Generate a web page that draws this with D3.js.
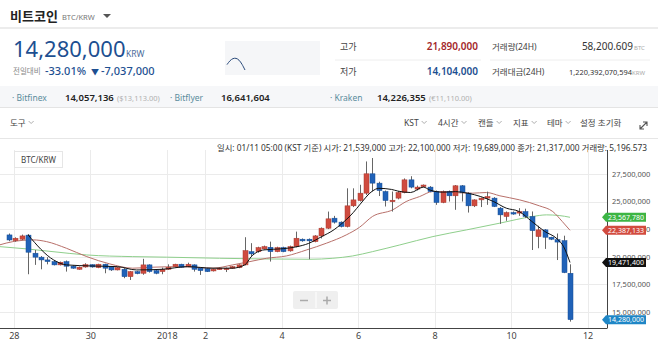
<!DOCTYPE html>
<html>
<head>
<meta charset="utf-8">
<script src="https://cdn.jsdelivr.net/npm/d3@7"></script>
<style>
body { margin: 0; background: #fff; }
svg text { font-family: "Noto Sans", "Noto Sans CJK KR", sans-serif; }
</style>
</head>
<body>
<svg id="chart" width="658" height="345"></svg>
<script>
// 4시간 캔들 (단위: 백만 KRW), 첫 캔들 2017-12-27 21:00 KST
var opens = [21.97,21.45,21.58,21.95,20.31,19.95,19.7,19.55,19.25,19.55,19.13,18.85,19.06,19.27,19.0,19.31,19.09,18.79,18.85,18.18,
  18.64,18.49,19.25,18.73,18.64,18.85,19.09,19.31,19.09,19.25,18.95,18.9,18.7,18.85,18.9,18.95,19.0,19.25,20.45,20.45,
  20.7,20.85,20.45,20.82,20.52,20.91,21.58,21.58,21.36,21.88,22.58,23.49,23.13,22.73,24.61,25.09,25.76,27.52,26.67,25.91,
  25.0,25.31,25.82,26.97,26.13,26.35,26.31,25.91,24.91,25.91,25.52,26.43,25.76,24.61,25.15,25.31,25.31,24.4,23.64,24.0,
  23.95,24.09,23.64,21.82,22.43,21.76,21.54,21.45,18.49];
var highs = [22.1,21.75,22.0,22.05,20.6,20.05,19.95,19.65,19.55,19.65,19.2,19.1,19.4,19.3,19.35,19.35,19.15,19.05,18.95,18.7,
  18.7,19.8,19.3,18.8,19.0,19.3,19.35,19.35,19.45,19.3,19.0,18.95,18.9,19.0,19.0,19.15,19.3,21.76,21.22,20.9,
  21.0,21.36,20.9,20.9,21.0,22.27,21.65,21.65,21.95,22.65,24.09,23.7,23.2,26.2,26.2,26.52,28.64,28.95,26.8,26.0,
  25.91,25.95,27.1,27.3,26.45,26.55,26.4,26.0,26.0,26.0,26.5,26.5,25.85,25.2,25.35,25.9,25.4,24.5,24.1,24.1,
  24.4,24.35,24.1,22.8,22.5,21.8,22.1,21.9,19.3];
var lows = [21.4,21.35,21.5,18.4,19.25,18.85,19.3,19.2,19.2,18.64,18.9,18.8,19.0,19.0,18.95,18.49,18.7,18.75,18.04,17.88,
  18.4,18.35,18.55,18.4,18.4,18.8,19.05,19.0,19.05,18.64,18.34,18.6,18.65,18.8,18.6,18.9,18.95,19.2,20.0,20.35,
  20.65,19.55,20.4,20.4,20.45,20.85,21.35,19.76,21.3,21.65,22.5,23.0,22.65,22.65,24.5,25.0,25.6,25.9,25.5,24.55,
  24.09,25.2,25.75,26.2,26.0,26.3,25.85,24.7,24.85,25.0,24.25,25.0,24.0,24.5,24.5,24.7,24.5,22.97,23.25,23.8,
  23.7,23.5,20.6,20.76,20.7,21.5,19.69,18.5,14.1];
var closes = [21.51,21.67,21.88,20.4,19.95,19.7,19.55,19.25,19.49,19.13,18.95,19.04,19.27,19.06,19.31,18.95,18.79,19.0,18.18,18.64,
  18.46,19.25,18.64,18.49,18.85,19.04,19.31,19.04,19.31,18.85,18.73,18.64,18.85,18.95,18.95,19.09,19.25,20.55,20.25,20.82,
  20.91,20.45,20.82,20.45,20.91,21.67,21.43,21.43,21.88,22.58,23.43,23.13,22.73,24.61,25.15,25.76,27.52,26.67,26.0,25.09,
  25.12,25.82,26.97,26.31,26.31,26.5,25.91,24.91,25.91,25.52,26.43,25.82,24.61,25.15,25.31,25.45,24.55,23.79,24.0,23.88,
  24.09,23.64,22.36,22.43,21.76,21.58,21.32,18.55,14.28];

// 이동평균선 [캔들 번호, 값]
var maShort = [[3,21.97],[7,19.7],[9,19.25],[13,19.15],[17,19.09],[20,18.79],[24,18.85],[28,19.09],[32,18.95],[35,18.95],
  [37,19.25],[38,20.0],[40,20.61],[43,20.72],[45,20.88],[47,21.2],[49,21.8],[51,22.45],[52,22.9],[54,24.0],[55,24.7],
  [57,25.95],[58,26.2],[60,26.1],[61,25.95],[63,25.82],[65,26.31],[66,26.05],[68,25.85],[70,25.9],[72,25.75],[74,25.45],
  [76,25.0],[78,24.4],[80,24.1],[82,23.2],[84,22.3],[86,21.6],[87,20.9],[88,19.47]];
var maMid = [[-1.5,21.06],[0.6,21.36],[3.8,21.52],[5.9,21.36],[9,20.76],[12.2,20.0],[15.8,19.34],[19.4,18.95],[22.6,19.04],
  [26.8,19.09],[32,18.95],[35.1,19.25],[37.8,19.55],[40.4,19.85],[43.5,20.06],[46.7,20.61],[49.8,21.22],[52.9,21.97],
  [55,22.67],[57,23.64],[60.2,24.25],[62.3,25.0],[64.4,25.45],[66.5,25.91],[69.6,25.82],[72.7,25.76],[74.9,25.82],
  [77,25.52],[80.1,25.15],[83.2,24.61],[85.3,24.09],[86.8,23.18],[88,22.39]];
var maLong = [[-1.5,20.91],[2.8,20.7],[6.9,20.45],[12.2,20.15],[19.4,20.0],[24.7,19.95],[33,19.85],[47.2,19.76],[50.8,19.85],
  [53.9,20.06],[57,20.45],[61.3,21.06],[66.5,21.82],[71.8,22.43],[77,23.04],[82.1,23.64],[84.3,23.79],[86.3,23.73],[88,23.57]];

var priceTicks = [15, 17.5, 20, 22.5, 25, 27.5];
var dateTicks = [new Date(2017,11,28), new Date(2017,11,30), new Date(2018,0,1), new Date(2018,0,2), new Date(2018,0,4),
  new Date(2018,0,6), new Date(2018,0,8), new Date(2018,0,10), new Date(2018,0,12)];
var dateLabels = ["28", "30", "2018", "2", "4", "6", "8", "10", "12"];
var tagValues = [23.56778, 22.387133, 19.4714, 14.28];
var tagLabels = ["23,567,780", "22,387,133", "19,471,400", "14,280,000"];
var spark = [0.45, 0.8, 0.97, 1.0, 0.85, 0.5, 0.0];

var svg = d3.select("#chart");
var firstCandle = new Date(2017, 11, 27, 21);
function candleTime(i) { return new Date(+firstCandle + i * 4 * 3600e3); }

// ---- 상단 정보 영역
function txt(x, y, s, size, color, opts) {
  opts = opts || {};
  return svg.append("text").attr("x", x).attr("y", y).text(s)
    .attr("font-size", size).attr("fill", color)
    .attr("font-weight", opts.weight || 400)
    .attr("text-anchor", opts.anchor || "start");
}
txt(10, 21, "비트코인", 13, "#222", {weight: 700});
txt(62, 20, "BTC/KRW", 7.5, "#777");
svg.append("path").attr("d", "M103,14 L111,14 L107,18 Z").attr("fill", "#555");
svg.append("rect").attr("x", 0).attr("y", 27).attr("width", 658).attr("height", 2).attr("fill", "#ececec");

txt(13, 57, "14,280,000", 22, "#1d4f91", {weight: 400});
txt(126, 57, "KRW", 8.5, "#4a6a9a");
txt(13, 74, "전일대비", 7.5, "#888");
txt(45, 74.5, "-33.01%", 11, "#1d4f91", {weight: 500});
txt(91, 74.5, "▼", 8, "#1d4f91");
txt(101, 74.5, "-7,037,000", 11, "#1d4f91", {weight: 500});

svg.append("rect").attr("x", 225).attr("y", 41).attr("width", 95).attr("height", 34).attr("fill", "#f5f6f8");
var sx = d3.scaleLinear().domain([0, spark.length - 1]).range([227, 245]);
var sy = d3.scaleLinear().domain([0, 1]).range([70, 58]);
svg.append("path").datum(spark)
  .attr("d", d3.line().x(function(d, i) { return sx(i); }).y(function(d) { return sy(d); }).curve(d3.curveBasis))
  .attr("fill", "none").attr("stroke", "#2a4a7a").attr("stroke-width", 1);

txt(340, 50, "고가", 9, "#444");
txt(478, 50, "21,890,000", 10, "#a3262a", {weight: 600, anchor: "end"});
txt(492, 50, "거래량(24H)", 8.5, "#444");
txt(633, 50, "58,200.609", 10, "#333", {anchor: "end"});
txt(634, 50, "BTC", 6, "#aaa");
svg.append("line").attr("x1", 335).attr("x2", 481).attr("y1", 60).attr("y2", 60).attr("stroke", "#eee");
svg.append("line").attr("x1", 490).attr("x2", 650).attr("y1", 60).attr("y2", 60).attr("stroke", "#eee");
txt(340, 75, "저가", 9, "#444");
txt(478, 75, "14,104,000", 10, "#1d4f91", {weight: 600, anchor: "end"});
txt(492, 75, "거래대금(24H)", 8.5, "#444");
txt(632, 75, "1,220,392,070,594", 7.4, "#333", {anchor: "end"});
txt(632, 75, "KRW", 6, "#aaa");

// 거래소 시세
svg.append("rect").attr("x", 0).attr("y", 86).attr("width", 658).attr("height", 21).attr("fill", "#f6f7f9");
svg.append("line").attr("x1", 0).attr("x2", 658).attr("y1", 107.5).attr("y2", 107.5).attr("stroke", "#e4e4e4");
txt(12, 101, "· Bitfinex", 8.5, "#5a8c9c");
txt(65, 101, "14,057,136", 9.5, "#222", {weight: 600});
txt(117, 101, "($13,113.00)", 7.5, "#b0b0b0");
txt(170, 101, "· Bitflyer", 8.5, "#5a8c9c");
txt(221, 101, "16,641,604", 9.5, "#222", {weight: 600});
txt(330, 101, "· Kraken", 8.5, "#5a8c9c");
txt(377, 101, "14,226,355", 9.5, "#222", {weight: 600});
txt(429, 101, "(€11,110.00)", 7.5, "#b0b0b0");

// 툴바
var tools = [["도구", 10], ["KST", 404], ["4시간", 438], ["캔들", 478], ["지표", 513], ["테마", 547]];
tools.forEach(function(t) {
  var el = txt(t[1], 126, t[0], 8.5, "#444");
  var w = el.node().getComputedTextLength();
  svg.append("path").attr("d", "M" + (t[1] + w + 3) + ",121 l2.5,2.5 l2.5,-2.5")
    .attr("fill", "none").attr("stroke", "#999").attr("stroke-width", 0.8);
});
txt(580, 126, "설정 초기화", 8.5, "#444");
svg.append("path").attr("d", "M640,129 L647,122 M643,122 L647,122 L647,126 M640,125 L640,129 L644,129")
  .attr("fill", "none").attr("stroke", "#555").attr("stroke-width", 1.1);
svg.append("line").attr("x1", 0).attr("x2", 658).attr("y1", 138.5).attr("y2", 138.5).attr("stroke", "#e6e6e6");

txt(217, 151, "일시: 01/11 05:00 (KST 기준) 시가: 21,539,000 고가: 22,100,000 저가: 19,689,000 종가: 21,317,000 거래량: 5,196.573", 8.4, "#333")
  .attr("textLength", 430).attr("lengthAdjust", "spacingAndGlyphs");

// ---- 차트 영역
var plot = {left: 0, right: 607, top: 153, bottom: 328};
var x = d3.scaleTime().domain([firstCandle, candleTime(88)]).range([9, 570]);
var y = d3.scaleLinear().domain([15, 27.5]).range([311.7, 174]);

svg.append("clipPath").attr("id", "clip").append("rect")
  .attr("x", plot.left).attr("y", plot.top).attr("width", plot.right - plot.left).attr("height", plot.bottom - plot.top);

var grid = svg.append("g");
grid.selectAll(".vg").data(dateTicks).enter().append("line")
  .attr("x1", function(d) { return Math.round(x(d)) + 0.5; }).attr("x2", function(d) { return Math.round(x(d)) + 0.5; })
  .attr("y1", plot.top - 3).attr("y2", plot.bottom).attr("stroke", "#ebebeb");
grid.selectAll(".hg").data(priceTicks).enter().append("line")
  .attr("x1", plot.left).attr("x2", plot.right)
  .attr("y1", function(d) { return Math.round(y(d)) + 0.5; }).attr("y2", function(d) { return Math.round(y(d)) + 0.5; })
  .attr("stroke", "#ebebeb");

var g = svg.append("g").attr("clip-path", "url(#clip)");

function maLine(data, color, width) {
  g.append("path").datum(data)
    .attr("d", d3.line().x(function(d) { return x(candleTime(d[0])); }).y(function(d) { return y(d[1]); }).curve(d3.curveMonotoneX))
    .attr("fill", "none").attr("stroke", color).attr("stroke-width", width);
}
maLine(maLong, "#8fcf8c", 1);
maLine(maMid, "#b8706a", 1);

var idx = d3.range(closes.length);
var up = function(i) { return closes[i] >= opens[i]; };
g.selectAll(".wick").data(idx).enter().append("line")
  .attr("x1", function(i) { return Math.round(x(candleTime(i))) + 0.5; })
  .attr("x2", function(i) { return Math.round(x(candleTime(i))) + 0.5; })
  .attr("y1", function(i) { return y(highs[i]); }).attr("y2", function(i) { return y(lows[i]); })
  .attr("stroke", "#666").attr("stroke-width", 1);
g.selectAll(".body").data(idx).enter().append("rect")
  .attr("x", function(i) { return Math.round(x(candleTime(i))) - 2; })
  .attr("width", 5)
  .attr("y", function(i) { return y(Math.max(opens[i], closes[i])); })
  .attr("height", function(i) { return Math.max(1.5, Math.abs(y(opens[i]) - y(closes[i]))); })
  .attr("fill", function(i) { return up(i) ? "#cf4b3f" : "#2062b8"; })
  .attr("stroke", function(i) { return up(i) ? "#a8392f" : "#174d94"; })
  .attr("stroke-width", 0.5);

maLine(maShort, "#111", 1);

// 범례 상자
svg.append("rect").attr("x", 14.5).attr("y", 151.5).attr("width", 48).attr("height", 16)
  .attr("fill", "#fff").attr("stroke", "#e6e6e6");
txt(21, 163, "BTC/KRW", 8, "#444");

// 확대 / 축소 버튼
svg.append("rect").attr("x", 293).attr("y", 291).attr("width", 45).attr("height", 18).attr("rx", 2).attr("fill", "#efefef");
svg.append("line").attr("x1", 316).attr("x2", 316).attr("y1", 292).attr("y2", 308).attr("stroke", "#fff");
svg.append("line").attr("x1", 300).attr("x2", 308).attr("y1", 300.5).attr("y2", 300.5).attr("stroke", "#aaa").attr("stroke-width", 1.5);
svg.append("path").attr("d", "M323,300.5 L331,300.5 M327,296.5 L327,304.5").attr("stroke", "#aaa").attr("stroke-width", 1.5);

// 축
var yAxis = svg.append("g").attr("transform", "translate(" + plot.right + ",0)")
  .call(d3.axisRight(y).tickValues(priceTicks).tickSize(0).tickPadding(5)
    .tickFormat(function(d) { return d3.format(",")(Math.round(d * 1e6)); }));
yAxis.select(".domain").attr("stroke", "#444").attr("d", "M0.5," + (plot.top - 3) + "V" + plot.bottom);
yAxis.selectAll("text").attr("font-size", 7.5).attr("fill", "#555");

var xAxis = svg.append("g").attr("transform", "translate(0," + plot.bottom + ")")
  .call(d3.axisBottom(x).tickValues(dateTicks).tickSize(0).tickPadding(5)
    .tickFormat(function(d, i) { return dateLabels[i]; }));
xAxis.select(".domain").attr("stroke", "#444").attr("d", "M0,0.5H" + (plot.right + 0.5));
xAxis.selectAll("text").attr("font-size", 9).attr("fill", "#444");

// 가격 태그 (눈금 글자 위에 겹쳐 그림)
var tagColors = ["#3db544", "#d24b3f", "#111", "#1f86c6"];
var tags = svg.append("g").selectAll("g").data(tagValues).enter().append("g")
  .attr("transform", function(d) { return "translate(602," + y(d) + ")"; });
tags.append("path").attr("d", "M0,0 L4,-4.5 L44,-4.5 L44,4.5 L4,4.5 Z")
  .attr("fill", function(d, i) { return tagColors[i]; });
tags.append("text").attr("x", 6).attr("y", 2.6).text(function(d, i) { return tagLabels[i]; })
  .attr("font-size", 7).attr("fill", "#fff")
  .attr("textLength", 36).attr("lengthAdjust", "spacingAndGlyphs");
</script>
</body>
</html>
